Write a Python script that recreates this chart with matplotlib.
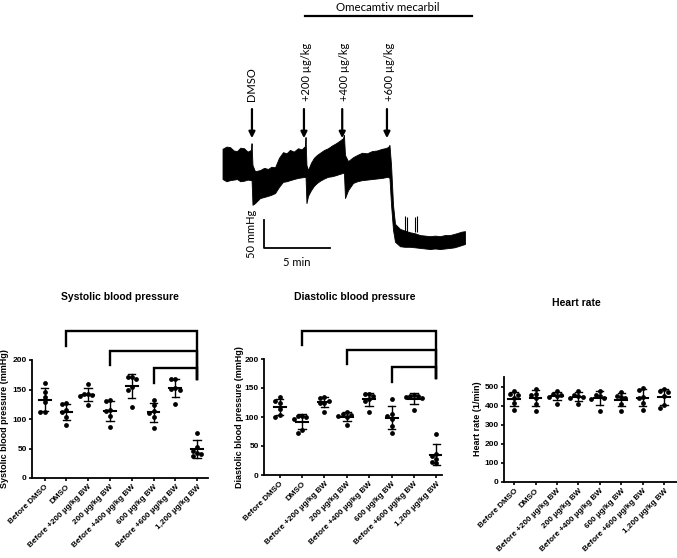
import numpy as np
import matplotlib
matplotlib.use('Agg')
import matplotlib.pyplot as plt

# ---------------- data ----------------
categories = ['Before DMSO', 'DMSO', 'Before +200 µg/kg BW', '200 µg/kg BW',
              'Before +400 µg/kg BW', '600 µg/kg BW', 'Before +600 µg/kg BW',
              '1,200 µg/kg BW']

systolic = [[161, 146, 137, 128, 112, 112],
            [127, 125, 116, 112, 104, 90],
            [160, 143, 142, 140, 139, 124],
            [133, 131, 115, 113, 105, 86],
            [172, 171, 168, 155, 150, 120],
            [133, 123, 113, 110, 103, 85],
            [168, 167, 153, 151, 149, 125],
            [77, 52, 46, 42, 40, 37]]

diastolic = [[134, 128, 125, 114, 103, 100],
             [102, 101, 100, 97, 78, 72],
             [135, 133, 128, 125, 124, 109],
             [108, 105, 103, 102, 100, 86],
             [140, 139, 136, 131, 128, 109],
             [131, 106, 102, 96, 84, 73],
             [138, 137, 136, 134, 132, 112],
             [70, 37, 33, 28, 22, 20]]

heart_rate = [[476, 460, 455, 440, 415, 375],
              [488, 462, 457, 440, 408, 372],
              [476, 462, 455, 450, 445, 410],
              [476, 458, 452, 446, 440, 410],
              [476, 458, 450, 440, 437, 373],
              [471, 452, 446, 440, 408, 373],
              [494, 484, 445, 440, 413, 377],
              [487, 478, 470, 452, 405, 386]]

# significance brackets: (left category, right category, top, left drop, right drop)
brackets = [(1, 7, 249, 224, 167),
            (3, 7, 215, 191, 167),
            (5, 7, 186, 161, 167)]

# blood pressure trace (time in min, pressure in mmHg, envelope of the raw signal)
trace_t = [0.00, 0.30, 0.57, 0.85, 1.10, 1.35, 1.63, 1.90, 2.16, 2.20, 2.27, 2.46,
           2.84, 3.15, 3.45, 3.70, 3.98, 4.28, 4.58, 4.85, 5.11, 5.40, 5.72, 6.00,
           6.25, 6.29, 6.36, 6.48, 6.70, 6.93, 7.15, 7.39, 7.70, 7.99, 8.30, 8.60,
           8.85, 9.13, 9.20, 9.28, 9.51, 9.89, 10.20, 10.57, 10.95, 11.33, 11.70,
           12.08, 12.30, 12.54, 12.65, 12.77, 12.92, 13.07, 13.45, 13.80, 14.20,
           14.60, 14.96, 15.35, 15.72, 16.10, 16.48, 16.85, 17.23, 17.55, 17.84,
           18.10, 18.37]
trace_upper = [195, 199, 198, 192, 191, 197, 196, 190, 193, 205, 166, 155,
               157, 161, 159, 163, 162, 179, 189, 187, 193, 190, 196, 194,
               200, 216, 166, 157, 170, 179, 184, 188, 193, 196, 201, 205,
               209, 214, 220, 184, 173, 180, 184, 188, 187, 191, 192,
               195, 196, 198, 202, 166, 95, 61, 52, 49, 46,
               44, 41, 40, 39, 40, 39, 41, 41, 43, 45,
               47, 48]
trace_lower = [141, 137, 139, 140, 141, 137, 138, 140, 139, 139, 95, 98,
               107, 109, 111, 113, 116, 127, 136, 137, 139, 141, 143, 144,
               145, 145, 98, 111, 121, 129, 134, 138, 142, 145, 146, 148,
               150, 152, 152, 107, 121, 134, 137, 139, 140, 141, 142,
               143, 144, 145, 143, 95, 50, 29, 21, 20, 20,
               19, 18, 17, 16, 17, 16, 17, 18, 19, 21,
               23, 25]
spike_t = [13.86, 13.98, 14.55, 14.73]
spike_peak = [75, 73, 73, 75]
spike_base = 46

injection_t = [2.23, 6.17, 9.07, 12.46]
injection_labels = ['DMSO', '+200 µg/kg', '+400 µg/kg', '+600 µg/kg']

# ---------------- figure ----------------
W, H = 677, 558
fig = plt.figure(figsize=(W / 100, H / 100), dpi=100)

def px_axes(x0, x1, y_top, y_bot):
    return fig.add_axes([x0 / W, 1 - y_bot / H, (x1 - x0) / W, (y_bot - y_top) / H])

# ---------- trace panel ----------
tr_font = 'Lato'
axt = px_axes(215, 480, 0, 270)
axt.set_xlim(-0.57, 19.51)
axt.set_ylim(-21.4, 460.7)
axt.axis('off')
axt.fill_between(trace_t, trace_lower, trace_upper, color='black', lw=0.6, edgecolor='black')
axt.vlines(spike_t, spike_base, spike_peak, color='black', lw=0.8)
for t, lab in zip(injection_t, injection_labels):
    axt.annotate('', xy=(t, 214), xytext=(t, 266),
                 arrowprops=dict(arrowstyle='-|>', color='black', lw=1.6,
                                 mutation_scale=9, shrinkA=0, shrinkB=0))
    axt.text(t + (0 if lab == 'DMSO' else 0.2), 280, lab, rotation=90, ha='center', va='bottom',
             fontsize=8, family=tr_font, color='black')
axt.plot([6.25, 18.9], [432, 432], color='black', lw=1.6, clip_on=False)
axt.text(12.54, 448, 'Omecamtiv mecarbil', ha='center', va='center', fontsize=8.3,
         family=tr_font, clip_on=False)
# scale bar
axt.plot([3.14, 3.14, 8.14], [68, 18, 18], color='black', lw=1.3)
axt.text(2.2, 43, '50 mmHg', rotation=90, ha='center', va='center', fontsize=8, family=tr_font)
axt.text(5.64, -8, '5 min', ha='center', va='center', fontsize=8, family=tr_font)

# ---------- dot plots ----------
font = 'Liberation Sans'

def swarm_x(ax, x0, vals, diam_px=4.4):
    trans = ax.transData
    p0 = trans.transform((0, 0)); p1 = trans.transform((1, 0))
    ppu = p1[0] - p0[0]
    step = 0.95 * diam_px / ppu
    placed, out = [], []
    for v in vals:
        for k in [0, -1, 1, -2, 2, -3, 3]:
            xd, yd = trans.transform((x0 + k * step, v))
            if all(np.hypot(xd - a, yd - b) >= 0.95 * diam_px for a, b in placed):
                break
        placed.append((xd, yd))
        out.append(x0 + k * step)
    return out

def dot_panel(ax, data, ylim, yticks, xlim, title, title_xy, ylabel, ylabel_xy, with_brackets):
    ax.set_xlim(*xlim)
    ax.set_ylim(*ylim)
    for s in ['top', 'right']:
        ax.spines[s].set_visible(False)
    for s in ['left', 'bottom']:
        ax.spines[s].set_linewidth(1.3)
    ax.set_yticks(yticks)
    ax.set_xticks(range(len(categories)))
    ax.set_xticklabels(categories, rotation=45, ha='right', rotation_mode='anchor',
                       fontsize=5.9, fontweight='bold', family=font)
    for lab in ax.get_yticklabels():
        lab.set_fontsize(6.0); lab.set_fontweight('bold'); lab.set_family(font)
    ax.tick_params(axis='both', length=2.5, width=1.2, pad=1.2)
    for i, vals in enumerate(data):
        xs = swarm_x(ax, i, vals)
        ax.scatter(xs, vals, s=12, color='black', zorder=3, linewidths=0)
        m = np.mean(vals); sd = np.std(vals, ddof=1)
        ax.plot([i - 0.27, i + 0.27], [m, m], color='black', lw=1.5, zorder=4)
        ax.plot([i, i], [m - sd, m + sd], color='black', lw=1.0, zorder=4)
        for yy in (m - sd, m + sd):
            ax.plot([i - 0.17, i + 0.17], [yy, yy], color='black', lw=1.0, zorder=4)
    if with_brackets:
        for a, b, top, ld, rd in brackets:
            ax.plot([a, a, b, b], [ld, top, top, rd], color='black', lw=1.7,
                    clip_on=False, solid_joinstyle='miter')
    fig.text(title_xy[0] / W, 1 - title_xy[1] / H, title, ha='center', va='center',
             fontsize=7.5, fontweight='bold', family=font)
    fig.text(ylabel_xy[0] / W, 1 - ylabel_xy[1] / H, ylabel, ha='center', va='center',
             rotation=90, fontsize=6.5, fontweight='bold', family=font)

ax1 = px_axes(32, 208, 360, 478)
dot_panel(ax1, systolic, (0, 200), [0, 50, 100, 150, 200], (-0.58, 7.5),
          'Systolic blood pressure', (120, 297),
          'Systolic blood pressure (mmHg)', (5, 419), True)

ax2 = px_axes(264, 442, 359, 475)
dot_panel(ax2, diastolic, (0, 200), [0, 50, 100, 150, 200], (-0.7, 7.25),
          'Diastolic blood pressure', (355, 297),
          'Diastolic blood pressure (mmHg)', (239, 417), True)

ax3 = px_axes(504, 677, 377, 482)
dot_panel(ax3, heart_rate, (0, 550), [0, 100, 200, 300, 400, 500], (-0.47, 7.6),
          'Heart rate', (576, 303),
          'Heart rate (1/min)', (477, 419), False)

fig.savefig('out.png', dpi=100)
